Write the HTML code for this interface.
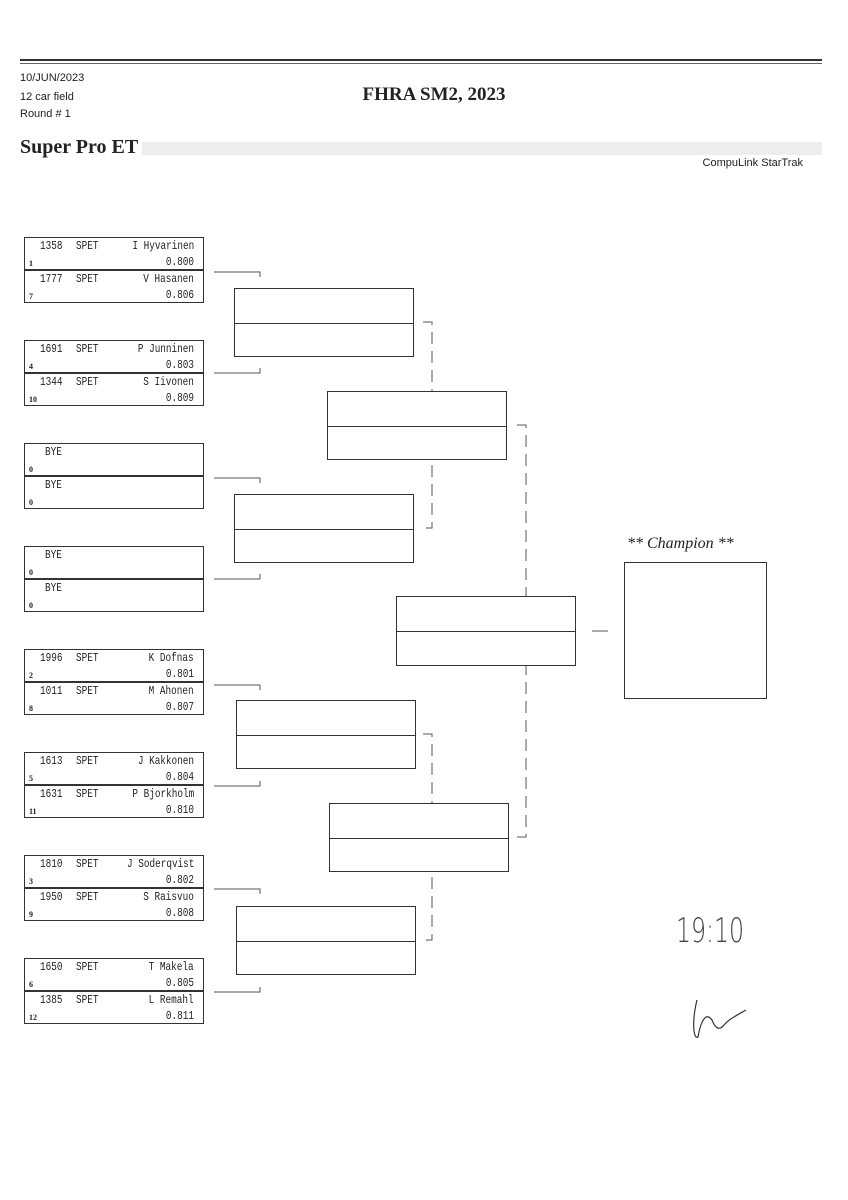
<!DOCTYPE html>
<html><head><meta charset="utf-8"><style>
body{margin:0;background:#fff;}
#p{position:relative;width:848px;height:1200px;overflow:hidden;background:#fff;font-family:"Liberation Sans",sans-serif;color:#222;}
.a{position:absolute;}
.e{position:absolute;left:24px;width:180px;height:33px;border:1px solid #333;box-sizing:border-box;font-family:"Liberation Mono",monospace;font-size:12px;}
.e span{position:absolute;white-space:pre;transform:scaleX(0.78);}
.e .n{left:15px;top:1px;transform-origin:left;}
.e .s{left:51px;top:1px;transform-origin:left;}
.e .m{right:9px;top:1px;transform-origin:right;}
.e .t{right:9px;top:17px;transform-origin:right;}
.e .d{left:4px;top:21px;font-family:"Liberation Serif",serif;font-size:8px;font-weight:bold;transform:none;}
.b{position:absolute;border:1px solid #333;background:#fff;box-sizing:border-box;}
.b i{position:absolute;left:0;right:0;top:50%;border-top:1px solid #333;}
.sm{font-size:11px;position:absolute;left:20px;}
</style></head><body><div id="p">
<div class="a" style="left:20px;top:59px;width:802px;height:2px;background:#333"></div>
<div class="a" style="left:20px;top:63px;width:802px;height:1px;background:#666"></div>
<div class="sm" style="top:72px">10/JUN/2023</div>
<div class="sm" style="top:91px">12 car field</div>
<div class="sm" style="top:108px">Round # 1</div>
<div class="a" style="left:0;width:868px;text-align:center;top:84px;font-family:'Liberation Serif',serif;font-weight:bold;font-size:19px">FHRA SM2, 2023</div>
<div class="a" style="left:20px;top:136px;font-family:'Liberation Serif',serif;font-weight:bold;font-size:20px">Super Pro ET</div>
<div class="a" style="left:142px;top:142px;width:680px;height:13px;background-image:radial-gradient(#888 0.6px,transparent 0.7px);background-size:2px 2px;opacity:.6"></div>
<div class="a" style="right:45px;top:157px;font-size:11px">CompuLink StarTrak</div>

<div class="e" style="top:237px"><span class="n">1358</span><span class="s">SPET</span><span class="m">I Hyvarinen</span><span class="d">1</span><span class="t">0.800</span></div>
<div class="e" style="top:270px"><span class="n">1777</span><span class="s">SPET</span><span class="m">V Hasanen</span><span class="d">7</span><span class="t">0.806</span></div>
<div class="e" style="top:340px"><span class="n">1691</span><span class="s">SPET</span><span class="m">P Junninen</span><span class="d">4</span><span class="t">0.803</span></div>
<div class="e" style="top:373px"><span class="n">1344</span><span class="s">SPET</span><span class="m">S Iivonen</span><span class="d">10</span><span class="t">0.809</span></div>
<div class="e" style="top:443px"><span class="n" style="left:20px">BYE</span><span class="d">0</span></div>
<div class="e" style="top:476px"><span class="n" style="left:20px">BYE</span><span class="d">0</span></div>
<div class="e" style="top:546px"><span class="n" style="left:20px">BYE</span><span class="d">0</span></div>
<div class="e" style="top:579px"><span class="n" style="left:20px">BYE</span><span class="d">0</span></div>
<div class="e" style="top:649px"><span class="n">1996</span><span class="s">SPET</span><span class="m">K Dofnas</span><span class="d">2</span><span class="t">0.801</span></div>
<div class="e" style="top:682px"><span class="n">1011</span><span class="s">SPET</span><span class="m">M Ahonen</span><span class="d">8</span><span class="t">0.807</span></div>
<div class="e" style="top:752px"><span class="n">1613</span><span class="s">SPET</span><span class="m">J Kakkonen</span><span class="d">5</span><span class="t">0.804</span></div>
<div class="e" style="top:785px"><span class="n">1631</span><span class="s">SPET</span><span class="m">P Bjorkholm</span><span class="d">11</span><span class="t">0.810</span></div>
<div class="e" style="top:855px"><span class="n">1810</span><span class="s">SPET</span><span class="m">J Soderqvist</span><span class="d">3</span><span class="t">0.802</span></div>
<div class="e" style="top:888px"><span class="n">1950</span><span class="s">SPET</span><span class="m">S Raisvuo</span><span class="d">9</span><span class="t">0.808</span></div>
<div class="e" style="top:958px"><span class="n">1650</span><span class="s">SPET</span><span class="m">T Makela</span><span class="d">6</span><span class="t">0.805</span></div>
<div class="e" style="top:991px"><span class="n">1385</span><span class="s">SPET</span><span class="m">L Remahl</span><span class="d">12</span><span class="t">0.811</span></div>

<svg class="a" style="left:0;top:0" width="848" height="1200">
<g stroke="#555" stroke-width="1" fill="none">
<path d="M214 272H260V277M214 373H260V368"/>
<path d="M214 478H260V483M214 579H260V574"/>
<path d="M214 685H260V690M214 786H260V781"/>
<path d="M214 889H260V894M214 992H260V987"/>
<path d="M423 322H432V528H423M423 734H432V940H423M517 425H526V837H517" stroke-dasharray="12 7"/>
<path d="M592 631H608"/>
</g>
<text x="676" y="942" font-family="DejaVu Sans" font-size="34" fill="#444" textLength="68" lengthAdjust="spacingAndGlyphs" style="font-weight:lighter">19:10</text>
<path d="M697 1000C692 1020 693 1040 698 1037C700 1025 705 1010 712 1020C716 1030 720 1030 724 1025C728 1020 732 1018 746 1010" stroke="#333" fill="none" stroke-width="1.2"/>
</svg>
<div class="b" style="left:234px;top:288px;width:180px;height:69px"><i></i></div>
<div class="b" style="left:234px;top:494px;width:180px;height:69px"><i></i></div>
<div class="b" style="left:236px;top:700px;width:180px;height:69px"><i></i></div>
<div class="b" style="left:236px;top:906px;width:180px;height:69px"><i></i></div>
<div class="b" style="left:327px;top:391px;width:180px;height:69px"><i></i></div>
<div class="b" style="left:329px;top:803px;width:180px;height:69px"><i></i></div>
<div class="b" style="left:396px;top:596px;width:180px;height:70px"><i></i></div>
<div class="a" style="left:627px;top:535px;font-family:'Liberation Serif',serif;font-style:italic;font-size:16px">** Champion **</div>
<div class="b" style="left:624px;top:562px;width:143px;height:137px"></div>
</div></body></html>
